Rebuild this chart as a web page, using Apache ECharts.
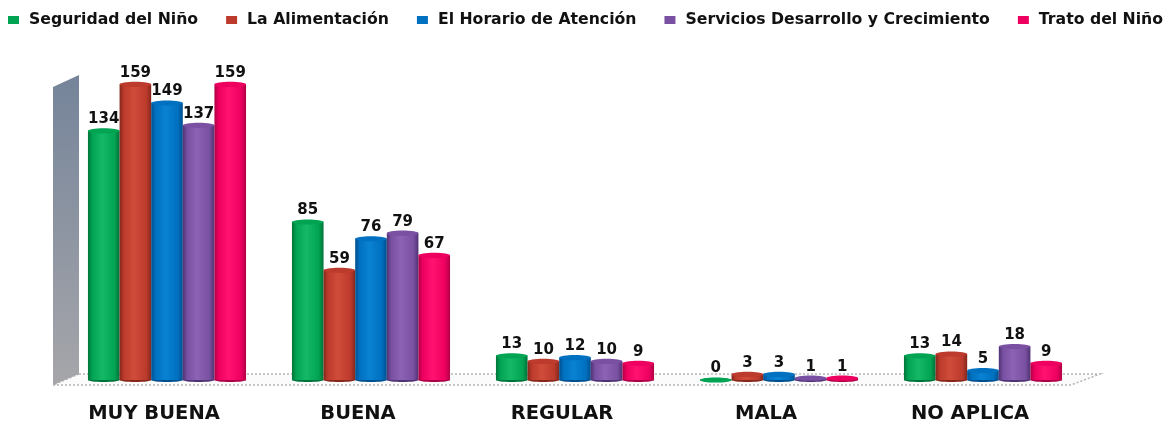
<!DOCTYPE html>
<html>
<head>
<meta charset="utf-8">
<style>html,body{margin:0;padding:0;background:#fff}#main{width:1170px;height:424px}</style>
<script src="https://cdn.jsdelivr.net/npm/echarts@6/dist/echarts.min.js"></script>
</head>
<body>
<div id="main"></div>
<script>
var categories = ['MUY BUENA', 'BUENA', 'REGULAR', 'MALA', 'NO APLICA'];
var seguridad = [134, 85, 13, 0, 13];
var alimentacion = [159, 59, 10, 3, 14];
var horario = [149, 76, 12, 3, 5];
var servicios = [137, 79, 10, 1, 18];
var trato = [159, 67, 9, 1, 9];

var names = ['Seguridad del Niño', 'La Alimentación', 'El Horario de Atención', 'Servicios Desarrollo y Crecimiento', 'Trato del Niño'];
var values = [seguridad, alimentacion, horario, servicios, trato];
// oscuro, medio, claro de cada cilindro
var colores = [
    ['#00733a', '#00a452', '#14b866'],
    ['#86271c', '#bd3b2c', '#d04c3a'],
    ['#004f8e', '#0070c0', '#0a82d2'],
    ['#4f3374', '#7a50a2', '#8c62b4'],
    ['#ae0044', '#ee0060', '#ff1270']
];
var huecoGrupo = 0.225;

function cilindro(idx) {
    var c = colores[idx];
    var relleno = new echarts.graphic.LinearGradient(0, 0, 1, 0, [
        { offset: 0, color: c[0] },
        { offset: 0.14, color: c[1] },
        { offset: 0.45, color: c[2] },
        { offset: 0.84, color: c[1] },
        { offset: 1, color: c[0] }
    ]);
    return function (params, api) {
        var base = api.coord([api.value(0), 0]);
        var tope = api.coord([api.value(0), api.value(1)]);
        var banda = api.size([1, 0])[0];
        var ancho = banda * (1 - huecoGrupo) / names.length;
        var izq = base[0] + ancho * (idx - names.length / 2);
        var cx = izq + ancho / 2;
        return {
            type: 'group',
            children: [
                { type: 'ellipse', shape: { cx: cx, cy: base[1], rx: ancho / 2, ry: 2 }, style: { fill: c[0] } },
                { type: 'rect', shape: { x: izq, y: tope[1], width: ancho, height: base[1] - tope[1] }, style: { fill: relleno } },
                { type: 'ellipse', shape: { cx: cx, cy: tope[1], rx: ancho / 2, ry: 2.6 }, style: { fill: c[1] } },
                {
                    type: 'text', z2: 50,
                    style: {
                        x: cx, y: tope[1] - 4,
                        text: String(api.value(1)),
                        align: 'center', verticalAlign: 'bottom',
                        font: 'bold 15px "DejaVu Sans"', fill: '#111'
                    }
                }
            ]
        };
    };
}

var series = names.map(function (n, i) {
    return {
        name: n,
        type: 'custom',
        renderItem: cilindro(i),
        itemStyle: { color: colores[i][1] },
        encode: { x: 0, y: 1 },
        data: values[i].map(function (v, k) { return [k, v]; })
    };
});

var chart = echarts.init(document.getElementById('main'), null, { renderer: 'canvas' });
chart.setOption({
    animation: false,
    backgroundColor: '#fff',
    legend: {
        left: 3, top: 7,
        icon: 'rect',
        itemWidth: 11, itemHeight: 8,
        itemGap: 28,
        textStyle: { fontFamily: 'DejaVu Sans', fontSize: 15.7, fontWeight: 'bold', color: '#111', padding: [0, 0, 0, 5] },
        data: names
    },
    grid: { left: 65, right: 85, top: 64, bottom: 44 },
    xAxis: {
        type: 'category',
        data: categories,
        axisLine: { show: false },
        axisTick: { show: false },
        axisLabel: { margin: 24, padding: [0, 26, 0, 0], color: '#111', fontFamily: 'DejaVu Sans', fontSize: 19.5, fontWeight: 'bold', interval: 0 }
    },
    yAxis: { type: 'value', min: 0, max: 170, show: false },
    graphic: [
        {
            type: 'polygon', silent: true, z: -1,
            shape: { points: [[79, 374], [1100, 374], [1071, 385], [53, 385]] },
            style: { fill: '#fbfbfb', stroke: '#b4b4b4', lineWidth: 1.5, lineDash: [2, 2] }
        },
        {
            type: 'polygon', silent: true, z: -1,
            shape: { points: [[53, 87], [79, 75], [79, 374], [53, 385]] },
            style: {
                fill: new echarts.graphic.LinearGradient(0, 0, 0, 1, [
                    { offset: 0, color: '#75849a' },
                    { offset: 1, color: '#a6a6aa' }
                ])
            }
        }
    ],
    series: series
});
</script>
</body>
</html>
